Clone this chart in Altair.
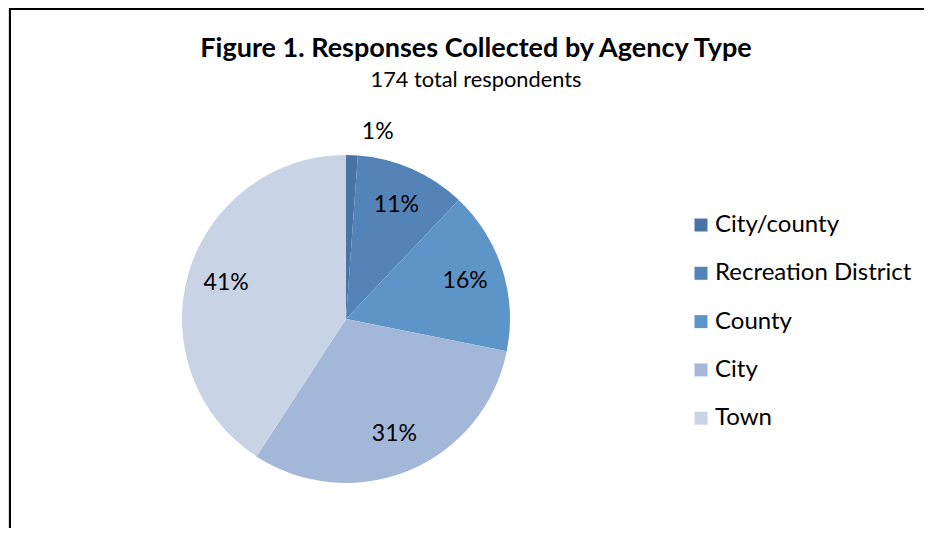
import altair as alt
import pandas as pd

categories = ["City/county", "Recreation District", "County", "City", "Town"]
counts = [2, 19, 28, 54, 71]
colors = ["#4A72A4", "#5383B7", "#5E95C8", "#A3B8D8", "#C8D3E5"]
title_text = "Figure 1. Responses Collected by Agency Type"
subtitle_text = "174 total respondents"

total = sum(counts)
df = pd.DataFrame({
    "cat": categories,
    "count": counts,
    "idx": list(range(len(categories))),
})
df["label"] = [f"{round(c / total * 100)}%" for c in counts]

FONT = "Lato"
CX, CY, R = 338, 311, 164

base = alt.Chart(df).encode(
    theta=alt.Theta("count:Q", stack=True),
    order=alt.Order("idx:Q", sort="ascending"),
)

pie = base.mark_arc(radius=R, strokeWidth=0).encode(
    x=alt.value(CX), y=alt.value(CY),
    color=alt.Color(
        "cat:N",
        scale=alt.Scale(domain=categories, range=colors),
        sort=categories,
        legend=alt.Legend(
            title=None, orient="none", legendX=681, legendY=205,
            symbolType="square", symbolSize=169, symbolStrokeWidth=0,
            labelFont=FONT, labelFontSize=24, labelColor="#000000",
            rowPadding=24.3, labelOffset=2, labelLimit=400,
        ),
    ),
)

inner = base.transform_calculate(
    t="datum.idx > 0 ? datum.label : ''"
).mark_text(radius=125, font=FONT, fontSize=23, color="#000000").encode(
    x=alt.value(CX), y=alt.value(CY), text="t:N"
)

outer = base.transform_calculate(
    t="datum.idx == 0 ? datum.label : ''"
).mark_text(radius=187, dx=25, font=FONT, fontSize=23, color="#000000").encode(
    x=alt.value(CX), y=alt.value(CY), text="t:N"
)

one = alt.Data(values=[{"a": 1}])

title = alt.Chart(one).mark_text(
    font=FONT, fontSize=27, fontWeight="bold", color="#000000", baseline="alphabetic"
).encode(x=alt.value(468), y=alt.value(49), text=alt.value(title_text))

subtitle = alt.Chart(one).mark_text(
    font=FONT, fontSize=21.8, color="#000000", baseline="alphabetic"
).encode(x=alt.value(468), y=alt.value(79), text=alt.value(subtitle_text))

frame_top = alt.Chart(one).mark_rule(color="#000000", strokeWidth=2).encode(
    x=alt.value(1), x2=alt.value(916), y=alt.value(1)
)
frame_left = alt.Chart(one).mark_rule(color="#000000", strokeWidth=2).encode(
    x=alt.value(2), y=alt.value(0), y2=alt.value(520)
)

chart = alt.layer(pie, inner, outer, title, subtitle, frame_top, frame_left).properties(
    width=916, height=520,
    autosize=alt.AutoSizeParams(type="none"),
    padding=0,
).configure_view(stroke=None).configure(background="white")

chart.save("out.html", embed_options={"renderer": "svg", "actions": False})
